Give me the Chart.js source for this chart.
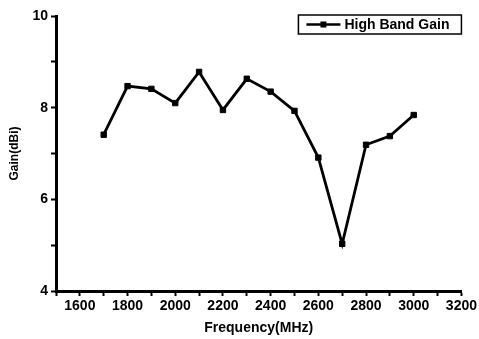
<!DOCTYPE html>
<html lang="en">
<head>
    <meta charset="UTF-8">
    <title>High Band Gain</title>
    <script src="https://cdn.jsdelivr.net/npm/chart.js"></script>
    <style>
        html, body { margin: 0; padding: 0; background: #fff; }
        #wrap { width: 479px; height: 339px; }
    </style>
</head>
<body>
    <div id="wrap"><canvas id="gainChart"></canvas></div>

    <script>
        // Data
        const frequencies = [1700, 1800, 1900, 2000, 2100, 2200, 2300, 2400, 2500, 2600, 2700, 2800, 2900, 3000];
        const gainValues = [7.41, 8.47, 8.41, 8.10, 8.78, 7.95, 8.63, 8.35, 7.93, 6.91, 5.03, 7.19, 7.38, 7.84];
        const xLabelTicks = [1600, 1800, 2000, 2200, 2400, 2600, 2800, 3000, 3200];
        const yLabelTicks = [4, 6, 8, 10];
        const seriesName = 'High Band Gain';

        const fontFamily = '"Liberation Sans", Arial, sans-serif';

        // Legend drawn as a framed box in the upper right of the plot
        const boxedLegend = {
            id: 'boxedLegend',
            afterDraw(chart) {
                const ctx = chart.ctx;
                const area = chart.chartArea;
                const w = 163, h = 19;
                const x0 = area.right - w;
                const y0 = area.top - 1;
                const cy = y0 + h / 2;
                ctx.save();
                ctx.strokeStyle = '#000';
                ctx.lineWidth = 1.5;
                ctx.strokeRect(x0, y0, w, h);
                ctx.lineWidth = 2.5;
                ctx.beginPath();
                ctx.moveTo(x0 + 8, cy);
                ctx.lineTo(x0 + 42, cy);
                ctx.stroke();
                ctx.fillStyle = '#000';
                ctx.fillRect(x0 + 22, cy - 3, 6, 6);
                ctx.font = 'bold 14px ' + fontFamily;
                ctx.textBaseline = 'middle';
                ctx.fillText(chart.data.datasets[0].label, x0 + 46, cy + 1);
                ctx.restore();
            }
        };

        const points = frequencies.map((f, i) => ({ x: f, y: gainValues[i] }));

        new Chart(document.getElementById('gainChart'), {
            type: 'line',
            data: {
                datasets: [{
                    label: seriesName,
                    data: points,
                    borderColor: '#000',
                    backgroundColor: '#000',
                    borderWidth: 2.8,
                    pointStyle: 'rect',
                    pointRadius: 3.8,
                    pointBorderWidth: 1,
                    tension: 0
                }]
            },
            options: {
                responsive: true,
                maintainAspectRatio: false,
                animation: false,
                layout: { padding: { left: 0, top: 16, right: 15, bottom: 0 } },
                plugins: {
                    legend: { display: false },
                    tooltip: { enabled: false }
                },
                scales: {
                    x: {
                        type: 'linear',
                        min: 1500,
                        max: 3200,
                        afterFit: (scale) => { scale.height = 48; },
                        border: { display: true, color: '#000', width: 3 },
                        grid: { drawOnChartArea: false, drawTicks: true, tickLength: 5, tickWidth: 2, tickColor: '#000' },
                        ticks: {
                            stepSize: 100,
                            autoSkip: false,
                            maxRotation: 0,
                            padding: 2,
                            color: '#000',
                            font: { family: fontFamily, size: 14, weight: 'bold' },
                            callback: (v) => xLabelTicks.includes(v) ? String(v) : ''
                        },
                        title: {
                            display: true,
                            text: 'Frequency(MHz)',
                            color: '#000',
                            padding: { top: 0, bottom: 2 },
                            font: { family: fontFamily, size: 14, weight: 'bold' }
                        }
                    },
                    y: {
                        min: 4,
                        max: 10,
                        afterFit: (scale) => { scale.width = 56; },
                        border: { display: true, color: '#000', width: 3 },
                        grid: { drawOnChartArea: false, drawTicks: true, tickLength: 5, tickWidth: 2, tickColor: '#000' },
                        ticks: {
                            stepSize: 1,
                            autoSkip: false,
                            padding: 3,
                            color: '#000',
                            font: { family: fontFamily, size: 14, weight: 'bold' },
                            callback: (v) => yLabelTicks.includes(v) ? String(v) : ''
                        },
                        title: {
                            display: true,
                            text: 'Gain(dBi)',
                            color: '#000',
                            padding: { top: 7, bottom: 0 },
                            font: { family: fontFamily, size: 12, weight: 'bold' }
                        }
                    }
                }
            },
            plugins: [boxedLegend]
        });
    </script>
</body>
</html>
